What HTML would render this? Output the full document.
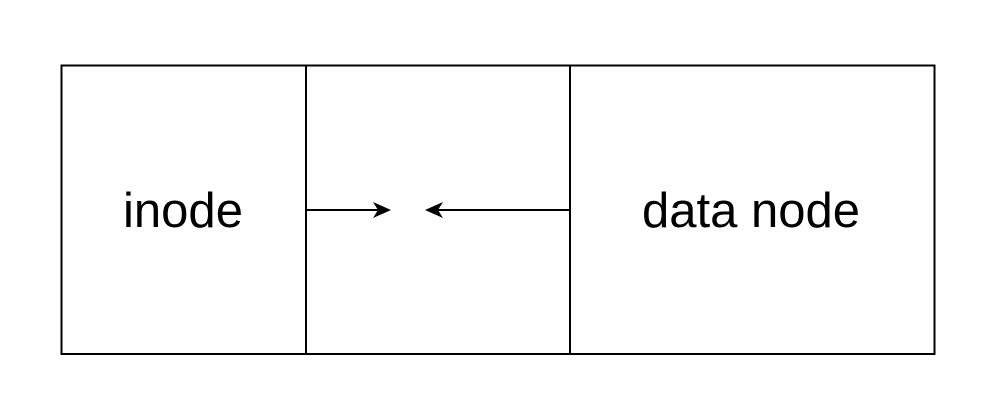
<!DOCTYPE html>
<html><head><style>body{margin:0;background:#fff;}</style></head><body>
<svg width="982" height="414" xmlns="http://www.w3.org/2000/svg">
<rect width="982" height="414" fill="#fff"/>
<g fill="none" stroke="#000" stroke-width="2">
<rect x="61.5" y="65.5" width="873" height="288.5"/>
<line x1="306" y1="65" x2="306" y2="354"/>
<line x1="570" y1="65" x2="570" y2="354"/>
<line x1="306" y1="210" x2="382" y2="210"/>
<line x1="570" y1="210" x2="434" y2="210"/>
</g>
<path d="M391 210 L373 202 L378 210 L373 218 Z" fill="#000"/>
<path d="M425 210 L443 202 L438 210 L443 218 Z" fill="#000"/>
<g font-family="Liberation Sans, sans-serif" font-size="49" text-anchor="middle" fill="#000">
<text x="183" y="227">inode</text>
<text x="751" y="227">data node</text>
</g>
</svg>
</body></html>
